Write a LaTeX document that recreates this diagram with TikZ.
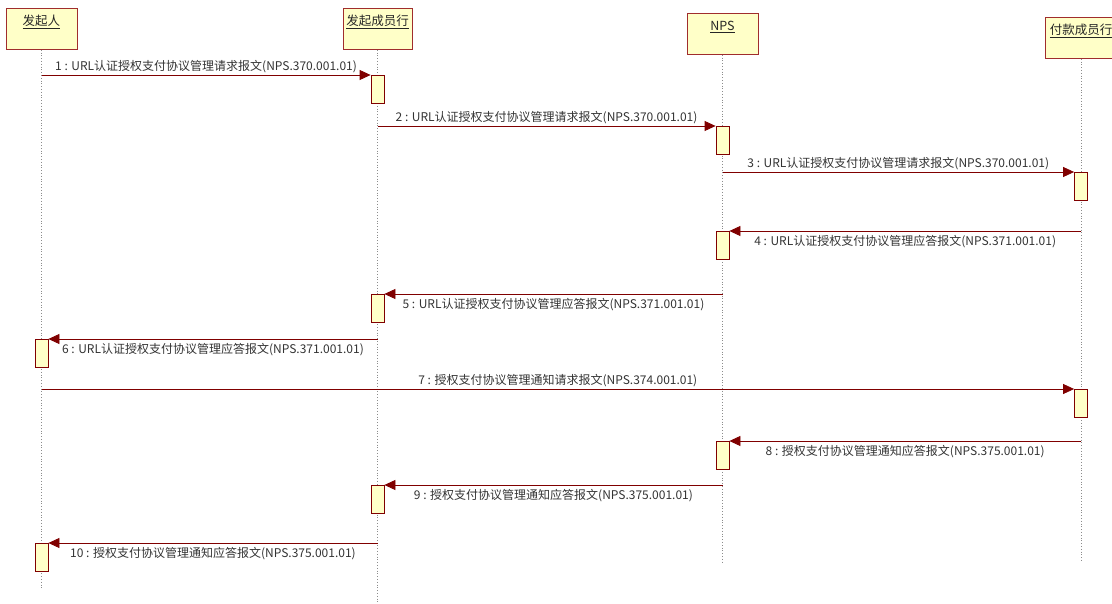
\documentclass[tikz,border=0pt]{standalone}
\usepackage{fontspec}
\newfontfamily\cjk{Noto Sans CJK SC}
\usetikzlibrary{arrows.meta}

\begin{document}
\begin{tikzpicture}[x=1pt,y=-1pt,>={Triangle[length=11pt,width=10pt]}]
\tikzset{
  head/.style={draw=headred, fill=boxyellow, line width=.8pt, minimum width=71pt, inner xsep=0pt,
    inner ysep=2.5pt, text height=14.5pt, text depth=21.5pt, anchor=north, text=black!85,
    font=\cjk\fontsize{12.5}{14}\selectfont},
  life/.style={draw=black!45, dotted, line width=.8pt},
  act/.style={draw=msgred, fill=boxyellow, line width=.8pt, minimum width=13pt, minimum height=28pt,
    inner sep=0pt, anchor=north},
  msg/.style={draw=msgred, line width=.8pt, ->},
  note/.style={font=\cjk\fontsize{12}{13}\selectfont, text=black!80, inner sep=1pt}
}

\definecolor{boxyellow}{RGB}{255,255,200}
\definecolor{headred}{RGB}{160,45,45}
\definecolor{msgred}{RGB}{128,0,0}

\clip (0,0) rectangle (1112,604);

% participants
\node[head] (fqr)  at (41.5,8)   {\underline{发起人}};
\node[head, minimum width=69pt] (ffcy) at (377.5,8) {\underline{发起成员行}};
\node[head] (nps)  at (722.5,13) {\underline{NPS}};
\node[head, minimum width=72pt] (fkcy) at (1081,17) {\underline{付款成员行}};

\coordinate (fqr-end)  at (fqr.south |- 0,590);
\coordinate (ffcy-end) at (ffcy.south |- 0,604);
\coordinate (nps-end)  at (nps.south |- 0,562);
\coordinate (fkcy-end) at (fkcy.south |- 0,562);
\foreach \p in {fqr,ffcy,nps,fkcy}
  \draw[life] (\p.south) -- (\p-end);

% requests, left to right
\foreach \n/\from/\to/\y/\txt in {
    1/fqr/ffcy/75/{1 : URL认证授权支付协议管理请求报文(NPS.370.001.01)},
    2/ffcy/nps/126/{2 : URL认证授权支付协议管理请求报文(NPS.370.001.01)},
    3/nps/fkcy/172/{3 : URL认证授权支付协议管理请求报文(NPS.370.001.01)},
    7/fqr/fkcy/389/{7 : 授权支付协议管理通知请求报文(NPS.374.001.01)}} {
  \node[act] (act\n) at (\to.south |- 0,\y) {};
  \draw[msg] (\from.south |- act\n.north) -- (act\n.north west)
    node[note, midway, above=1pt] (lbl\n) {\txt};
}

% replies, right to left
\foreach \n/\from/\to/\y/\txt in {
    4/fkcy/nps/231/{4 : URL认证授权支付协议管理应答报文(NPS.371.001.01)},
    5/nps/ffcy/294/{5 : URL认证授权支付协议管理应答报文(NPS.371.001.01)},
    6/ffcy/fqr/339/{6 : URL认证授权支付协议管理应答报文(NPS.371.001.01)},
    8/fkcy/nps/441/{8 : 授权支付协议管理通知应答报文(NPS.375.001.01)},
    9/nps/ffcy/485/{9 : 授权支付协议管理通知应答报文(NPS.375.001.01)},
    10/ffcy/fqr/543/{10 : 授权支付协议管理通知应答报文(NPS.375.001.01)}} {
  \node[act] (act\n) at (\to.south |- 0,\y) {};
  \draw[msg] (\from.south |- act\n.north) -- (act\n.north east)
    node[note, midway, below=3pt] (lbl\n) {\txt};
}
\end{tikzpicture}
\end{document}
